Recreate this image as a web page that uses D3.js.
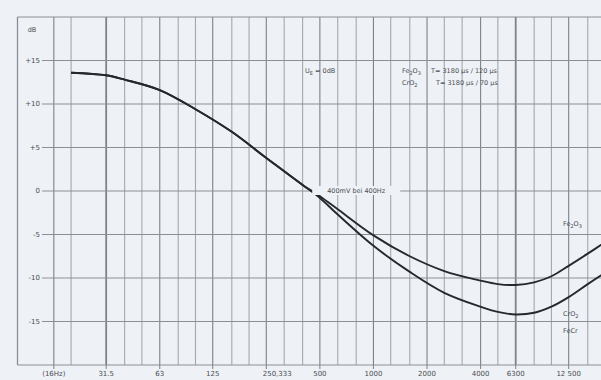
<!DOCTYPE html>
<html>
<head>
<meta charset="utf-8">
<script src="https://cdn.jsdelivr.net/npm/d3@7"></script>
<style>
  html, body { margin: 0; padding: 0; background: #eef1f6; }
  svg { display: block; }
  text, tspan { font-family: "DejaVu Sans", sans-serif; fill: #4a4d52; }
</style>
</head>
<body>
<div id="chart"></div>
<script>
const freqs = [20, 31.5, 40, 63, 100, 160, 250, 400, 500, 630, 1000, 1600, 2500, 4000, 5000, 6300, 8000, 10000, 12500, 16000, 20000];
const fe2o3 = [13.6, 13.3, 12.8, 11.6, 9.4, 6.8, 3.8, 0.7, -0.6, -2.1, -5.1, -7.5, -9.2, -10.3, -10.7, -10.8, -10.5, -9.8, -8.6, -7.2, -5.9];
const cro2  = [13.6, 13.3, 12.8, 11.6, 9.4, 6.8, 3.8, 0.7, -0.8, -2.7, -6.3, -9.3, -11.7, -13.3, -13.9, -14.2, -14.0, -13.3, -12.2, -10.7, -9.4];

// grid and axis labels
const gridFreqs = [16, 20, 31.5, 40, 50, 63, 80, 100, 125, 160, 200, 250, 315, 400, 500, 630, 800, 1000,
  1250, 1600, 2000, 2500, 3150, 4000, 5000, 6300, 8000, 10000, 12500, 16000];
const tickFreqs = [16, 31.5, 63, 125, 250, 500, 1000, 2000, 4000, 6300, 12500];
const tickLabels = ['(16Hz)', '31.5', '63', '125', '250,333', '500', '1000', '2000', '4000', '6300', '12 500'];
const dbTicks = [-20, -15, -10, -5, 0, 5, 10, 15, 20];
const dbLabels = ['', '-15', '-10', '-5', '0', '+5', '+10', '+15', ''];

const width = 601, height = 380;
const svg = d3.select('#chart').append('svg')
  .attr('width', width)
  .attr('height', height);

const x = d3.scaleLog().domain([10, 20000]).range([17.5, 605]);
const y = d3.scaleLinear().domain([-20, 20]).range([365, 17]);

const grid = svg.append('g');

// vertical grid
grid.selectAll('line.v')
  .data(gridFreqs)
  .enter().append('line')
  .attr('x1', d => x(d)).attr('x2', d => x(d))
  .attr('y1', y(20)).attr('y2', y(-20))
  .attr('stroke', d => tickFreqs.includes(d) ? '#7d8289' : '#a3a8b0')
  .attr('stroke-width', d => (d === 31.5 || d === 6300) ? 1.8 : 1.1);

// horizontal grid (starts after the dB labels)
grid.selectAll('line.h')
  .data(dbTicks)
  .enter().append('line')
  .attr('x1', d => (d === 20 || d === -20) ? x(10) : 42)
  .attr('x2', width)
  .attr('y1', d => y(d)).attr('y2', d => y(d))
  .attr('stroke', '#8a8f97')
  .attr('stroke-width', 1.2);

// left border
grid.append('line')
  .attr('x1', x(10)).attr('x2', x(10))
  .attr('y1', y(20)).attr('y2', y(-20))
  .attr('stroke', '#8a8f97').attr('stroke-width', 1.3);

// ticks below bottom border
grid.selectAll('line.t')
  .data(tickFreqs)
  .enter().append('line')
  .attr('x1', d => x(d)).attr('x2', d => x(d))
  .attr('y1', y(-20)).attr('y2', y(-20) + 4)
  .attr('stroke', '#7d8289');

// dB labels
svg.selectAll('text.db')
  .data(dbTicks.filter((d, i) => dbLabels[i] !== ''))
  .enter().append('text')
  .attr('x', 40)
  .attr('y', d => y(d))
  .attr('dy', '0.35em')
  .attr('text-anchor', 'end')
  .attr('font-size', 7)
  .text(d => dbLabels[dbTicks.indexOf(d)]);

svg.append('text')
  .attr('x', 32).attr('y', 32)
  .attr('text-anchor', 'middle')
  .attr('font-size', 6.5)
  .text('dB');

// frequency labels
svg.selectAll('text.f')
  .data(tickFreqs)
  .enter().append('text')
  .attr('x', d => d === 250 ? x(288) : x(d))
  .attr('y', 376)
  .attr('text-anchor', 'middle')
  .attr('font-size', 7)
  .text((d, i) => tickLabels[i]);

// curves
const line = d3.line()
  .x((d, i) => x(freqs[i]))
  .y(d => y(d))
  .curve(d3.curveCatmullRom.alpha(0.5));

svg.append('path')
  .datum(fe2o3)
  .attr('fill', 'none')
  .attr('stroke', '#26282c')
  .attr('stroke-width', 1.9)
  .attr('d', line);

svg.append('path')
  .datum(cro2)
  .attr('fill', 'none')
  .attr('stroke', '#26282c')
  .attr('stroke-width', 1.9)
  .attr('d', line);

// annotations
const ann = svg.append('g').attr('font-size', 6.5);

const ue = ann.append('text').attr('x', 305).attr('y', 73);
ue.append('tspan').text('U');
ue.append('tspan').attr('font-size', 5).attr('dy', 2).text('E');
ue.append('tspan').attr('dy', -2).text(' = 0dB');

const fe = ann.append('text').attr('x', 402).attr('y', 73);
fe.append('tspan').text('Fe');
fe.append('tspan').attr('font-size', 5).attr('dy', 2).text('2');
fe.append('tspan').attr('dy', -2).text('O');
fe.append('tspan').attr('font-size', 5).attr('dy', 2).text('3');
ann.append('text').attr('x', 431).attr('y', 73).text('T= 3180 µs / 120 µs');

const cr = ann.append('text').attr('x', 402).attr('y', 85);
cr.append('tspan').text('CrO');
cr.append('tspan').attr('font-size', 5).attr('dy', 2).text('2');
ann.append('text').attr('x', 436).attr('y', 85).text('T= 3180 µs /  70 µs');

// reference level label sitting on the 0 dB line
const refX = x(800);
ann.append('rect')
  .attr('x', refX - 44).attr('y', y(0) - 5)
  .attr('width', 88).attr('height', 9)
  .attr('fill', '#eef1f6');
ann.append('text')
  .attr('x', refX).attr('y', y(0))
  .attr('dy', '0.35em')
  .attr('text-anchor', 'middle')
  .text('400mV  bei 400Hz');

// series labels on the right
const feR = ann.append('text').attr('x', 563).attr('y', 226);
feR.append('tspan').text('Fe');
feR.append('tspan').attr('font-size', 5).attr('dy', 2).text('2');
feR.append('tspan').attr('dy', -2).text('O');
feR.append('tspan').attr('font-size', 5).attr('dy', 2).text('3');

const crR = ann.append('text').attr('x', 563).attr('y', 316);
crR.append('tspan').text('CrO');
crR.append('tspan').attr('font-size', 5).attr('dy', 2).text('2');

ann.append('text').attr('x', 563).attr('y', 333).text('FeCr');
</script>
</body>
</html>
